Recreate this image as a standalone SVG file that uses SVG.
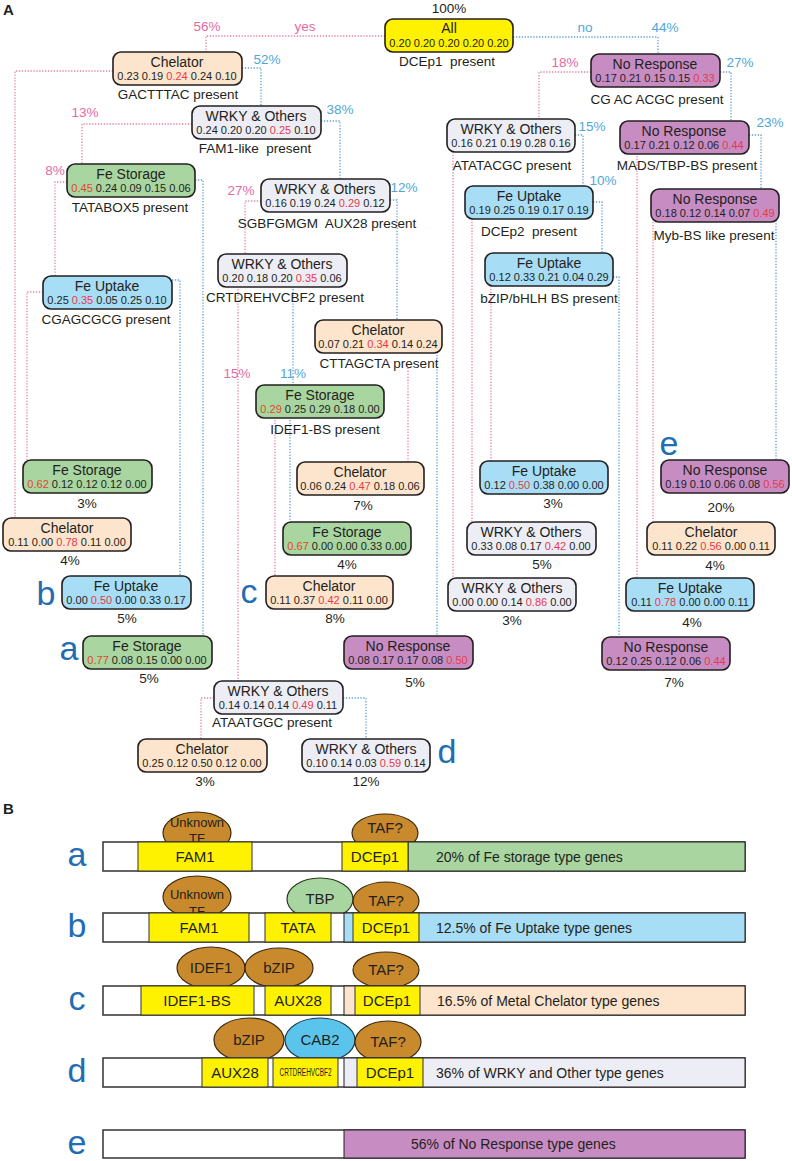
<svg xmlns="http://www.w3.org/2000/svg" width="792" height="1161" viewBox="0 0 792 1161">
<style>
text{font-family:"Liberation Sans",Arial,sans-serif;fill:#231f20;white-space:pre}
.bx{stroke:#231f20;stroke-width:1.6}
.al{fill:#fff200}.ch{fill:#fde4cc}.wr{fill:#ededf5}.fs{fill:#a9d5a0}.fu{fill:#a8ddf6}.nr{fill:#c78dc3}
.t{font-size:14px;text-anchor:middle}
.v{font-size:11px;text-anchor:middle}
.r{fill:#e63a4c}
.ro{fill:#e0472e}
.c{font-size:13.5px;text-anchor:middle}
.pp{font-size:13.5px;fill:#e56aa2;text-anchor:middle}
.pb{font-size:13.5px;fill:#4fa6da;text-anchor:middle}
.L{font-size:34px;fill:#1f6db4;text-anchor:middle}
.lp{fill:none;stroke:#e77fab;stroke-width:1.3;stroke-dasharray:1.3 1.6}
.lb{fill:none;stroke:#5d9fd6;stroke-width:1.3;stroke-dasharray:1.3 1.6}
.sec{font-size:15px;font-weight:bold}
.rw{fill:#fff;stroke:#333;stroke-width:1.5}
.y{fill:#fff200;stroke:#333;stroke-width:1}
.el{fill:#c98a2e;stroke:#3a2a10;stroke-width:1.2}
.et{font-size:15px;text-anchor:middle}
.ut{font-size:13px;text-anchor:middle}
.bt{font-size:15px;text-anchor:middle}
.tt{font-size:14px}
</style>
<text class="sec" x="3" y="15">A</text>
<g id="connectors">
<path class="lp" d="M385,36H206V52"/>
<path class="lp" d="M113,71H15V518"/>
<path class="lp" d="M192,124H82V164"/>
<path class="lp" d="M67,182H55V276"/>
<path class="lp" d="M43,292H27V460"/>
<path class="lp" d="M261,201H245V254"/>
<path class="lp" d="M238,286V681"/>
<path class="lp" d="M408,368V462"/>
<path class="lp" d="M275,417V576"/>
<path class="lp" d="M214,698H201V739"/>
<path class="lp" d="M591,72H539V119"/>
<path class="lp" d="M453,152V578"/>
<path class="lp" d="M472,219V522"/>
<path class="lp" d="M491,286V461"/>
<path class="lp" d="M637,153V578"/>
<path class="lp" d="M653,222V522"/>
<path class="lb" d="M513,37H658V54"/>
<path class="lb" d="M242,68H261V106"/>
<path class="lb" d="M321,121H340V179"/>
<path class="lb" d="M195,180H203V636"/>
<path class="lb" d="M172,280H180V576"/>
<path class="lb" d="M390,200H397V320"/>
<path class="lb" d="M293,286V385"/>
<path class="lb" d="M437,352V636"/>
<path class="lb" d="M290,417V522"/>
<path class="lb" d="M343,698H366V739"/>
<path class="lb" d="M720,72H731V121"/>
<path class="lb" d="M575,135H583V186"/>
<path class="lb" d="M593,202H602V253"/>
<path class="lb" d="M613,277H619V637"/>
<path class="lb" d="M749,135H761V189"/>
<path class="lb" d="M779,206H776V460"/>
<text class="pp" x="207" y="31">56%</text>
<text class="pp" x="305" y="31">yes</text>
<text class="pb" x="585" y="32">no</text>
<text class="pb" x="665" y="32">44%</text>
<text class="pb" x="267" y="64">52%</text>
<text class="pp" x="85" y="117">13%</text>
<text class="pb" x="340" y="114">38%</text>
<text class="pp" x="55" y="175">8%</text>
<text class="pp" x="241" y="195">27%</text>
<text class="pb" x="404" y="192">12%</text>
<text class="pp" x="237" y="378">15%</text>
<text class="pb" x="293" y="378">11%</text>
<text class="pp" x="565" y="67">18%</text>
<text class="pb" x="740" y="67">27%</text>
<text class="pb" x="592" y="131">15%</text>
<text class="pb" x="770" y="127">23%</text>
<text class="pb" x="603" y="185">10%</text>
</g>
<g id="n1"><text class="c" x="449" y="13">100%</text><rect class="bx al" x="385" y="19" width="128" height="33" rx="8"/><text class="t" x="449" y="33">All</text><text class="v" x="449" y="47">0.20 0.20 0.20 0.20 0.20</text><text class="c" x="447" y="66">DCEp1  present</text></g>
<g id="n2"><rect class="bx ch" x="113" y="52" width="129" height="33" rx="8"/><text class="t" x="177" y="67">Chelator</text><text class="v" x="177" y="80">0.23 0.19 <tspan class="r">0.24</tspan> 0.24 0.10</text><text class="c" x="178" y="99">GACTTTAC present</text></g>
<g id="n3"><rect class="bx wr" x="192" y="106" width="129" height="33" rx="8"/><text class="t" x="256" y="121">WRKY &amp; Others</text><text class="v" x="256" y="134">0.24 0.20 0.20 <tspan class="r">0.25</tspan> 0.10</text><text class="c" x="255" y="153">FAM1-like  present</text></g>
<g id="n4"><rect class="bx fs" x="67" y="164" width="128" height="33" rx="8"/><text class="t" x="131" y="179">Fe Storage</text><text class="v" x="131" y="192"><tspan class="ro">0.45</tspan> 0.24 0.09 0.15 0.06</text><text class="c" x="130" y="212">TATABOX5 present</text></g>
<g id="n5"><rect class="bx wr" x="261" y="179" width="129" height="33" rx="8"/><text class="t" x="325" y="194">WRKY &amp; Others</text><text class="v" x="325" y="207">0.16 0.19 0.24 <tspan class="r">0.29</tspan> 0.12</text><text class="c" x="327" y="228">SGBFGMGM  AUX28 present</text></g>
<g id="n6"><rect class="bx fu" x="43" y="276" width="129" height="33" rx="8"/><text class="t" x="107" y="291">Fe Uptake</text><text class="v" x="107" y="304">0.25 <tspan class="r">0.35</tspan> 0.05 0.25 0.10</text><text class="c" x="106" y="324">CGAGCGCG present</text></g>
<g id="n7"><rect class="bx wr" x="218" y="254" width="129" height="33" rx="8"/><text class="t" x="282" y="269">WRKY &amp; Others</text><text class="v" x="282" y="282">0.20 0.18 0.20 <tspan class="r">0.35</tspan> 0.06</text><text class="c" x="285" y="302">CRTDREHVCBF2 present</text></g>
<g id="n8"><rect class="bx ch" x="315" y="320" width="127" height="33" rx="8"/><text class="t" x="378" y="335">Chelator</text><text class="v" x="378" y="348">0.07 0.21 <tspan class="r">0.34</tspan> 0.14 0.24</text><text class="c" x="379" y="368">CTTAGCTA present</text></g>
<g id="n9"><rect class="bx fs" x="256" y="385" width="128" height="33" rx="8"/><text class="t" x="320" y="400">Fe Storage</text><text class="v" x="320" y="413"><tspan class="ro">0.29</tspan> 0.25 0.29 0.18 0.00</text><text class="c" x="325" y="434">IDEF1-BS present</text></g>
<g id="n10"><rect class="bx fs" x="23" y="460" width="129" height="33" rx="8"/><text class="t" x="87" y="475">Fe Storage</text><text class="v" x="87" y="488"><tspan class="ro">0.62</tspan> 0.12 0.12 0.12 0.00</text><text class="c" x="87" y="508">3%</text></g>
<g id="n11"><rect class="bx ch" x="3" y="518" width="128" height="33" rx="8"/><text class="t" x="67" y="533">Chelator</text><text class="v" x="67" y="546">0.11 0.00 <tspan class="r">0.78</tspan> 0.11 0.00</text><text class="c" x="70" y="565">4%</text></g>
<g id="n12"><text class="L" x="46" y="605">b</text><rect class="bx fu" x="62" y="576" width="129" height="33" rx="8"/><text class="t" x="126" y="591">Fe Uptake</text><text class="v" x="126" y="604">0.00 <tspan class="r">0.50</tspan> 0.00 0.33 0.17</text><text class="c" x="127" y="623">5%</text></g>
<g id="n13"><text class="L" x="69" y="660">a</text><rect class="bx fs" x="83" y="636" width="129" height="33" rx="8"/><text class="t" x="147" y="651">Fe Storage</text><text class="v" x="147" y="664"><tspan class="ro">0.77</tspan> 0.08 0.15 0.00 0.00</text><text class="c" x="149" y="683">5%</text></g>
<g id="n14"><rect class="bx ch" x="297" y="462" width="127" height="33" rx="8"/><text class="t" x="360" y="477">Chelator</text><text class="v" x="360" y="490">0.06 0.24 <tspan class="r">0.47</tspan> 0.18 0.06</text><text class="c" x="363" y="510">7%</text></g>
<g id="n15"><rect class="bx fs" x="283" y="522" width="128" height="33" rx="8"/><text class="t" x="347" y="537">Fe Storage</text><text class="v" x="347" y="550"><tspan class="ro">0.67</tspan> 0.00 0.00 0.33 0.00</text><text class="c" x="347" y="569">4%</text></g>
<g id="n16"><text class="L" x="249" y="603">c</text><rect class="bx ch" x="266" y="576" width="127" height="33" rx="8"/><text class="t" x="329" y="591">Chelator</text><text class="v" x="329" y="604">0.11 0.37 <tspan class="r">0.42</tspan> 0.11 0.00</text><text class="c" x="335" y="623">8%</text></g>
<g id="n17"><rect class="bx nr" x="344" y="636" width="129" height="33" rx="8"/><text class="t" x="408" y="651">No Response</text><text class="v" x="408" y="664">0.08 0.17 0.17 0.08 <tspan class="r">0.50</tspan></text><text class="c" x="415" y="687">5%</text></g>
<g id="n18"><rect class="bx wr" x="214" y="681" width="129" height="33" rx="8"/><text class="t" x="278" y="696">WRKY &amp; Others</text><text class="v" x="278" y="709">0.14 0.14 0.14 <tspan class="r">0.49</tspan> 0.11</text><text class="c" x="272" y="727">ATAATGGC present</text></g>
<g id="n19"><rect class="bx ch" x="138" y="739" width="129" height="33" rx="8"/><text class="t" x="202" y="754">Chelator</text><text class="v" x="202" y="767">0.25 0.12 0.50 0.12 0.00</text><text class="c" x="205" y="786">3%</text></g>
<g id="n20"><rect class="bx wr" x="302" y="739" width="128" height="33" rx="8"/><text class="t" x="366" y="754">WRKY &amp; Others</text><text class="v" x="366" y="767">0.10 0.14 0.03 <tspan class="r">0.59</tspan> 0.14</text><text class="c" x="366" y="786">12%</text><text class="L" x="447" y="763">d</text></g>
<g id="n21"><rect class="bx nr" x="591" y="54" width="129" height="33" rx="8"/><text class="t" x="655" y="69">No Response</text><text class="v" x="655" y="82">0.17 0.21 0.15 0.15 <tspan class="r">0.33</tspan></text><text class="c" x="657" y="104">CG AC ACGC present</text></g>
<g id="n22"><rect class="bx wr" x="447" y="119" width="128" height="33" rx="8"/><text class="t" x="511" y="134">WRKY &amp; Others</text><text class="v" x="511" y="147">0.16 0.21 0.19 0.28 0.16</text><text class="c" x="512" y="170">ATATACGC present</text></g>
<g id="n23"><rect class="bx nr" x="620" y="121" width="129" height="33" rx="8"/><text class="t" x="684" y="136">No Response</text><text class="v" x="684" y="149">0.17 0.21 0.12 0.06 <tspan class="r">0.44</tspan></text><text class="c" x="687" y="170">MADS/TBP-BS present</text></g>
<g id="n24"><rect class="bx fu" x="465" y="186" width="128" height="33" rx="8"/><text class="t" x="529" y="201">Fe Uptake</text><text class="v" x="529" y="214">0.19 0.25 0.19 0.17 0.19</text><text class="c" x="529" y="236">DCEp2  present</text></g>
<g id="n25"><rect class="bx nr" x="651" y="189" width="128" height="33" rx="8"/><text class="t" x="715" y="204">No Response</text><text class="v" x="715" y="217">0.18 0.12 0.14 0.07 <tspan class="r">0.49</tspan></text><text class="c" x="714" y="240">Myb-BS like present</text></g>
<g id="n26"><rect class="bx fu" x="485" y="253" width="128" height="33" rx="8"/><text class="t" x="549" y="268">Fe Uptake</text><text class="v" x="549" y="281">0.12 0.33 0.21 0.04 0.29</text><text class="c" x="549" y="303">bZIP/bHLH BS present</text></g>
<g id="n27"><rect class="bx fu" x="480" y="461" width="128" height="33" rx="8"/><text class="t" x="544" y="476">Fe Uptake</text><text class="v" x="544" y="489">0.12 <tspan class="r">0.50</tspan> 0.38 0.00 0.00</text><text class="c" x="553" y="508">3%</text></g>
<g id="n28"><text class="L" x="669" y="455">e</text><rect class="bx nr" x="661" y="460" width="128" height="33" rx="8"/><text class="t" x="725" y="475">No Response</text><text class="v" x="725" y="488">0.19 0.10 0.06 0.08 <tspan class="r">0.56</tspan></text><text class="c" x="721" y="512">20%</text></g>
<g id="n29"><rect class="bx wr" x="467" y="522" width="129" height="33" rx="8"/><text class="t" x="531" y="537">WRKY &amp; Others</text><text class="v" x="531" y="550">0.33 0.08 0.17 <tspan class="r">0.42</tspan> 0.00</text><text class="c" x="542" y="569">5%</text></g>
<g id="n30"><rect class="bx ch" x="647" y="522" width="128" height="33" rx="8"/><text class="t" x="711" y="537">Chelator</text><text class="v" x="711" y="550">0.11 0.22 <tspan class="r">0.56</tspan> 0.00 0.11</text><text class="c" x="715" y="570">4%</text></g>
<g id="n31"><rect class="bx wr" x="448" y="578" width="128" height="33" rx="8"/><text class="t" x="512" y="593">WRKY &amp; Others</text><text class="v" x="512" y="606">0.00 0.00 0.14 <tspan class="r">0.86</tspan> 0.00</text><text class="c" x="512" y="625">3%</text></g>
<g id="n32"><rect class="bx fu" x="626" y="578" width="128" height="33" rx="8"/><text class="t" x="690" y="593">Fe Uptake</text><text class="v" x="690" y="606">0.11 <tspan class="r">0.78</tspan> 0.00 0.00 0.11</text><text class="c" x="692" y="627">4%</text></g>
<g id="n33"><rect class="bx nr" x="602" y="637" width="128" height="33" rx="8"/><text class="t" x="666" y="652">No Response</text><text class="v" x="666" y="665">0.12 0.25 0.12 0.06 <tspan class="r">0.44</tspan></text><text class="c" x="674" y="687">7%</text></g>
<text class="sec" x="3" y="814">B</text>
<g id="row-a">
<text class="L" x="77" y="866">a</text>
<ellipse class="el" cx="197" cy="833" rx="34" ry="21"/><text class="ut" x="197" y="827">Unknown</text><text class="ut" x="197" y="843">TF</text>
<ellipse class="el" cx="385" cy="833" rx="33" ry="19"/><text class="et" x="385" y="833">TAF?</text>
<rect class="rw" x="103" y="842" width="642" height="29"/>
<rect class="y" x="138" y="842" width="114" height="29"/>
<rect class="bx fs" style="stroke-width:1" x="408" y="842" width="337" height="29"/>
<rect class="y" x="342" y="842" width="66" height="29"/>
<text class="bt" x="195" y="862">FAM1</text><text class="bt" x="375" y="862">DCEp1</text>
<text class="tt" x="436" y="862">20% of Fe storage type genes</text>
</g>
<g id="row-b">
<text class="L" x="77" y="937">b</text>
<ellipse class="el" cx="197" cy="897" rx="34" ry="21"/><text class="ut" x="197" y="899">Unknown</text><text class="ut" x="197" y="916">TF</text>
<ellipse cx="320" cy="899" rx="33" ry="21" fill="#a9d5a0" stroke="#2a3a20" stroke-width="1.2"/><text class="et" x="320" y="904">TBP</text>
<ellipse class="el" cx="386" cy="901" rx="33" ry="19"/><text class="et" x="386" y="906">TAF?</text>
<rect class="rw" x="103" y="913" width="642" height="29"/>
<rect class="y" x="149" y="913" width="100" height="29"/>
<rect class="y" x="265" y="913" width="66" height="29"/>
<rect class="bx fu" style="stroke-width:1" x="344" y="913" width="401" height="29"/>
<rect class="y" x="353" y="913" width="66" height="29"/>
<text class="bt" x="199" y="933">FAM1</text><text class="bt" x="298" y="933">TATA</text><text class="bt" x="386" y="933">DCEp1</text>
<text class="tt" x="436" y="933">12.5% of Fe Uptake type genes</text>
</g>
<g id="row-c">
<text class="L" x="77" y="1010">c</text>
<ellipse class="el" cx="211" cy="968" rx="34" ry="21"/><text class="et" x="211" y="973">IDEF1</text>
<ellipse class="el" cx="279" cy="968" rx="34" ry="20"/><text class="et" x="279" y="973">bZIP</text>
<ellipse class="el" cx="386" cy="970" rx="33" ry="18"/><text class="et" x="386" y="975">TAF?</text>
<rect class="rw" x="103" y="986" width="642" height="29"/>
<rect class="y" x="141" y="986" width="113" height="29"/>
<rect class="y" x="265" y="986" width="66" height="29"/>
<rect class="bx ch" style="stroke-width:1" x="344" y="986" width="401" height="29"/>
<rect class="y" x="355" y="986" width="65" height="29"/>
<text class="bt" x="197" y="1006">IDEF1-BS</text><text class="bt" x="298" y="1006">AUX28</text><text class="bt" x="387" y="1006">DCEp1</text>
<text class="tt" x="437" y="1006">16.5% of Metal Chelator type genes</text>
</g>
<g id="row-d">
<text class="L" x="77" y="1082">d</text>
<ellipse class="el" cx="249" cy="1040" rx="35" ry="22"/><text class="et" x="249" y="1045">bZIP</text>
<ellipse cx="320" cy="1040" rx="35" ry="22" fill="#5bc4ec" stroke="#1a3a50" stroke-width="1.2"/><text class="et" x="320" y="1045">CAB2</text>
<ellipse class="el" cx="388" cy="1042" rx="33" ry="21"/><text class="et" x="388" y="1047">TAF?</text>
<rect class="rw" x="103" y="1058" width="642" height="29"/>
<rect class="y" x="202" y="1058" width="66" height="29"/>
<rect class="y" x="273" y="1058" width="65" height="29"/>
<rect class="bx wr" style="stroke-width:1" x="344" y="1058" width="401" height="29"/>
<rect class="y" x="357" y="1058" width="66" height="29"/>
<text class="bt" x="235" y="1078">AUX28</text><text x="305.5" y="1076" font-size="10" text-anchor="middle" textLength="52" lengthAdjust="spacingAndGlyphs">CRTDREHVCBF2</text><text class="bt" x="390" y="1078">DCEp1</text>
<text class="tt" x="436" y="1078">36% of WRKY and Other type genes</text>
</g>
<g id="row-e">
<text class="L" x="77" y="1154">e</text>
<rect class="rw" x="103" y="1130" width="642" height="28"/>
<rect class="bx nr" style="stroke-width:1" x="344" y="1130" width="401" height="28"/>
<text class="tt" x="411" y="1149">56% of No Response type genes</text>
</g>
</svg>
